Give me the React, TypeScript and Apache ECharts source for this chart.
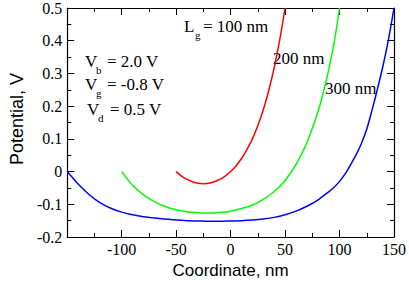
import React, { useEffect, useRef } from "react";
import * as echarts from "echarts";

// Lg = 100 nm
const X100 = [-50, -45, -40, -35, -30, -25, -20, -15, -10, -5, 0, 5, 10, 15, 20, 25, 30, 35, 40, 45, 50];
const V100 = [0.0, -0.014, -0.024, -0.031, -0.036, -0.037, -0.036, -0.031, -0.024, -0.014, 0.0, 0.018, 0.04, 0.068, 0.1, 0.141, 0.189, 0.248, 0.318, 0.401, 0.5];

// Lg = 200 nm
const X200 = [-100, -90, -80, -70, -60, -50, -40, -30, -20, -10, 0, 10, 20, 30, 40, 50, 60, 70, 80, 85, 90, 95, 100];
const V200 = [0.0, -0.042, -0.071, -0.092, -0.107, -0.117, -0.123, -0.126, -0.127, -0.125, -0.121, -0.113, -0.102, -0.085, -0.061, -0.027, 0.021, 0.088, 0.181, 0.24, 0.311, 0.394, 0.5];

// Lg = 300 nm
const X300 = [-150, -140, -130, -120, -110, -100, -90, -80, -70, -60, -50, -40, -30, -20, -10, 0, 10, 20, 30, 40, 50, 60, 70, 80, 90, 95, 100, 105, 110, 115, 120, 125, 130, 135, 140, 145, 150];
const V300 = [0.0, -0.038, -0.07, -0.095, -0.112, -0.124, -0.132, -0.138, -0.142, -0.145, -0.148, -0.15, -0.151, -0.152, -0.152, -0.151, -0.15, -0.148, -0.145, -0.14, -0.132, -0.121, -0.106, -0.087, -0.062, -0.048, -0.03, -0.008, 0.02, 0.05, 0.085, 0.13, 0.19, 0.255, 0.325, 0.405, 0.5];

const X_MIN = -150;
const X_MAX = 150;
const X_STEP = 50;
const Y_MIN = -0.2;
const Y_MAX = 0.5;
const Y_STEP = 0.1;

const SERIF = "Liberation Serif";
const SANS = "Liberation Sans";

const pairs = (xs: number[], ys: number[]) => xs.map((x, i) => [x, ys[i]]);

const tickCommon = {
  axisLine: { show: true, onZero: false, lineStyle: { color: "#000", width: 1.2 } },
  axisTick: { show: true, inside: true, length: 7, lineStyle: { color: "#000", width: 1 } },
  minorTick: { show: true, splitNumber: 2, length: 4, lineStyle: { color: "#000", width: 1 } },
  splitLine: { show: false },
  minorSplitLine: { show: false },
};

const txt = (x: number, y: number, text: string, size: number) => ({
  type: "text",
  x,
  y,
  silent: true,
  style: { text, fontFamily: SERIF, fontSize: size, fill: "#000", verticalAlign: "middle" },
});

export default function App() {
  const ref = useRef<HTMLDivElement>(null);
  useEffect(() => {
    if (!ref.current) return;
    const chart = echarts.init(ref.current, null, { renderer: "svg" });
    chart.setOption({
      animation: false,
      backgroundColor: "#fff",
      grid: { left: 50, right: 14, top: 7, bottom: 36 },
      xAxis: [
        {
          type: "value",
          min: X_MIN,
          max: X_MAX,
          interval: X_STEP,
          position: "bottom",
          ...tickCommon,
          axisLabel: {
            formatter: (v: number) => (Math.abs(v - X_MIN) < 1e-6 ? "" : String(Math.round(v))),
            fontFamily: SERIF,
            fontSize: 16,
            color: "#000",
            margin: 4,
          },
          name: "Coordinate, nm",
          nameLocation: "middle",
          nameGap: 25,
          nameTextStyle: { fontFamily: SANS, fontSize: 17, color: "#000" },
        },
        {
          type: "value",
          min: X_MIN,
          max: X_MAX,
          interval: X_STEP,
          position: "top",
          ...tickCommon,
          axisLabel: { show: false },
        },
      ],
      yAxis: [
        {
          type: "value",
          min: Y_MIN,
          max: Y_MAX,
          interval: Y_STEP,
          position: "left",
          ...tickCommon,
          axisLabel: {
            formatter: (v: number) => String(Number(v.toFixed(1))),
            fontFamily: SERIF,
            fontSize: 16,
            color: "#000",
            margin: 5,
          },
          name: "Potential, V",
          nameLocation: "middle",
          nameGap: 31,
          nameTextStyle: { fontFamily: SANS, fontSize: 18, color: "#000", padding: [0, 0, 0, 7] },
        },
        {
          type: "value",
          min: Y_MIN,
          max: Y_MAX,
          interval: Y_STEP,
          position: "right",
          ...tickCommon,
          axisLabel: { show: false },
        },
      ],
      series: [
        {
          name: "100 nm",
          type: "line",
          data: pairs(X100, V100),
          showSymbol: false,
          smooth: 0.3,
          lineStyle: { color: "#ff0000", width: 1.5 },
          itemStyle: { color: "#ff0000" },
        },
        {
          name: "200 nm",
          type: "line",
          data: pairs(X200, V200),
          showSymbol: false,
          smooth: 0.3,
          lineStyle: { color: "#00ff00", width: 1.5 },
          itemStyle: { color: "#00ff00" },
        },
        {
          name: "300 nm",
          type: "line",
          data: pairs(X300, V300),
          showSymbol: false,
          smooth: 0.3,
          lineStyle: { color: "#0000ff", width: 1.5 },
          itemStyle: { color: "#0000ff" },
        },
      ],
      graphic: [
        txt(184, 26.5, "L", 17),
        txt(195, 35, "g", 11),
        txt(203, 26.5, "= 100 nm", 17),
        txt(273, 58.5, "200 nm", 17),
        txt(325, 88, "300 nm", 17),
        txt(85, 61, "V", 17),
        txt(96, 70, "b", 11),
        txt(107, 61, "= 2.0 V", 17),
        txt(85, 84.5, "V", 17),
        txt(96, 93, "g", 11),
        txt(107, 84.5, "= -0.8 V", 17),
        txt(87, 109.5, "V", 17),
        txt(98, 118, "d", 11),
        txt(110, 109.5, "= 0.5 V", 17),
      ],
    });
    return () => chart.dispose();
  }, []);
  return (
    <div
      ref={ref}
      style={{ position: "absolute", left: 0, top: 0, width: 409, height: 284, background: "#fff" }}
    />
  );
}
